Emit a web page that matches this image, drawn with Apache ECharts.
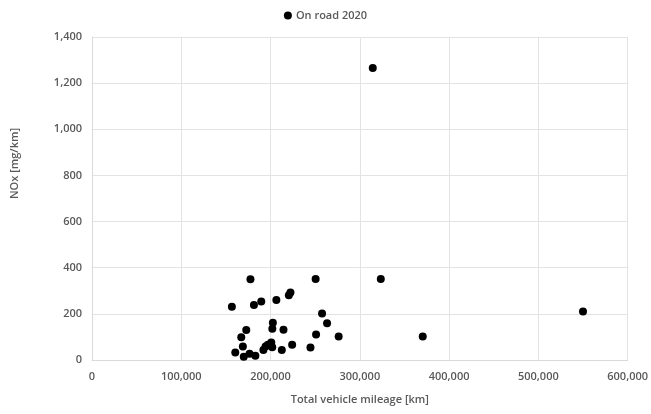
<!DOCTYPE html>
<html>
<head>
<meta charset="utf-8">
<script src="https://cdn.jsdelivr.net/npm/echarts@6/dist/echarts.min.js"></script>
<style>
html,body{margin:0;padding:0;background:#fff;}
#chart{width:651px;height:414px;}
</style>
</head>
<body>
<div id="chart"></div>
<script>
var seriesName = 'On road 2020';
var mileageKm = [314500, 177500, 250500, 323500, 156700, 181400, 189600, 206500, 220500, 222300,
  257700, 263300, 202600, 202000, 214500, 172800, 167200, 251000, 276300, 169000,
  160500, 170000, 176500, 183000, 192000, 194400, 197000, 200800, 201900, 212600,
  224200, 244700, 370500, 550000];
var noxMgKm = [1266, 350, 351, 351, 231, 238, 254, 260, 281, 293,
  202, 159, 161, 135, 131, 130, 99, 110, 102, 59,
  32, 14, 27, 18, 43, 58, 66, 76, 55, 43,
  66, 54, 102, 210];
var xTicks = [0, 100000, 200000, 300000, 400000, 500000, 600000];
var yTicks = [0, 200, 400, 600, 800, 1000, 1200, 1400];

var pts = mileageKm.map(function (x, i) { return [x, noxMgKm[i]]; });
var fmt = function (v) { return Number(v).toLocaleString('en-US'); };
var font = 'Open Sans';
var grey = '#595959';

var chart = echarts.init(document.getElementById('chart'), null, {renderer: 'canvas'});
chart.setOption({
  animation: false,
  backgroundColor: '#fff',
  textStyle: {fontFamily: font},
  legend: {
    top: 5, left: 'center',
    itemWidth: 8, itemHeight: 8, itemGap: 4,
    data: [{name: seriesName, icon: 'circle'}],
    textStyle: {color: grey, fontSize: 11, fontFamily: font, fontWeight: 600, padding: [0, 0, 0, -1]}
  },
  grid: {left: 92, right: 22, top: 37, bottom: 54},
  xAxis: {
    type: 'value', min: xTicks[0], max: xTicks[xTicks.length - 1], interval: 100000,
    name: 'Total vehicle mileage [km]', nameLocation: 'middle', nameGap: 34,
    nameTextStyle: {color: grey, fontSize: 11, fontFamily: font, fontWeight: 600},
    axisLine: {show: true, lineStyle: {color: '#d9d9d9'}},
    axisTick: {show: false},
    axisLabel: {color: grey, fontSize: 11, fontFamily: font, fontWeight: 600, margin: 11, formatter: fmt},
    splitLine: {show: true, lineStyle: {color: '#e3e3e3'}}
  },
  yAxis: {
    type: 'value', min: yTicks[0], max: yTicks[yTicks.length - 1], interval: 200,
    name: 'NOx [mg/km]', nameLocation: 'middle', nameGap: 72,
    nameTextStyle: {color: grey, fontSize: 11, fontFamily: font, fontWeight: 600, padding: [0, 0, 0, 70]},
    axisLine: {show: true, lineStyle: {color: '#d9d9d9'}},
    axisTick: {show: false},
    axisLabel: {color: grey, fontSize: 11, fontFamily: font, fontWeight: 600, margin: 10, formatter: fmt},
    splitLine: {show: true, lineStyle: {color: '#e3e3e3'}}
  },
  series: [{
    name: seriesName,
    type: 'scatter',
    symbol: 'circle',
    symbolSize: 8,
    itemStyle: {color: '#000', opacity: 1},
    data: pts
  }]
});
</script>
</body>
</html>
